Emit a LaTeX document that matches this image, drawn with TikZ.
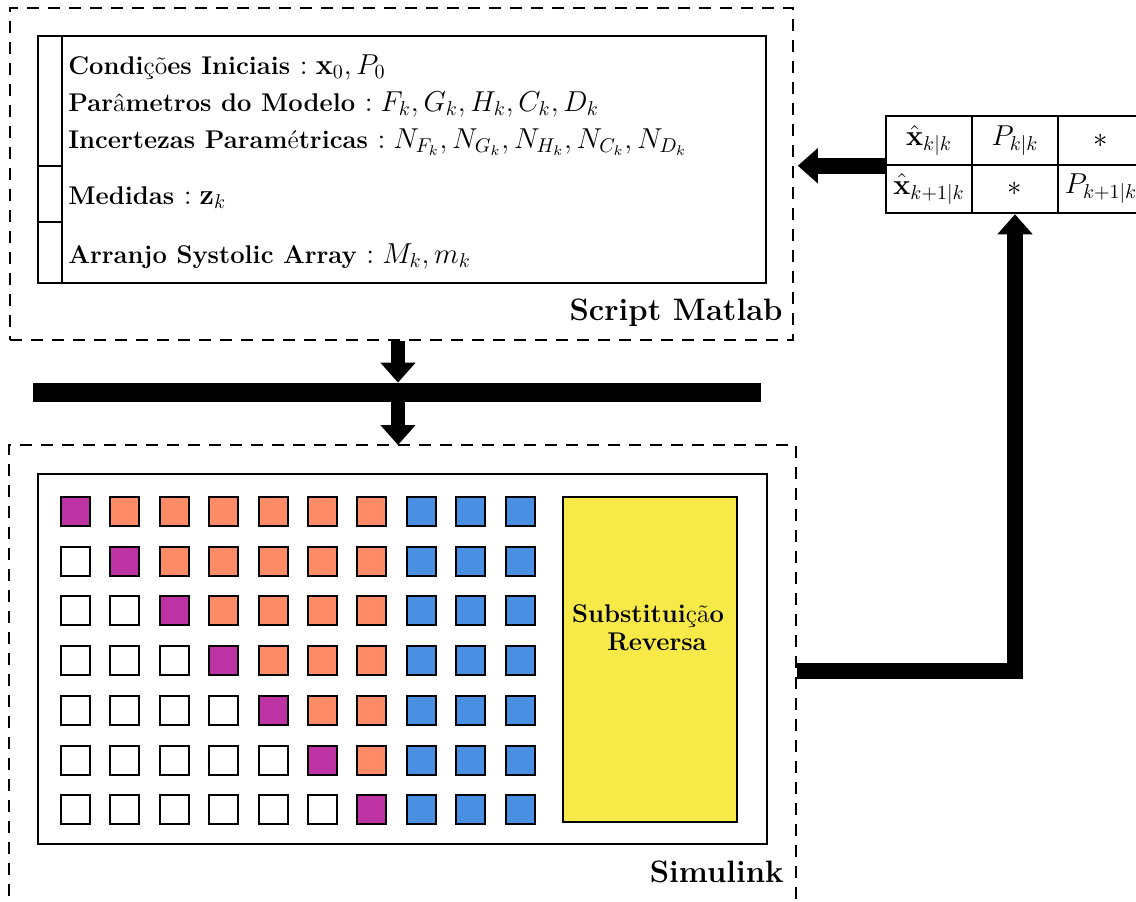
\documentclass[tikz,border=0pt]{standalone}
\usetikzlibrary{arrows.meta,positioning}
\definecolor{cpurple}{HTML}{BD33A4}
\definecolor{corange}{HTML}{FF8C66}
\definecolor{cblue}{HTML}{4A90E2}
\definecolor{cyellow}{HTML}{F7E948}
\newcommand{\mdch}[1]{{\mdseries #1}}
\newcommand{\mth}[1]{{\fontsize{14.2}{16}\selectfont$#1$}}
\tikzset{
  dashbox/.style={draw, dash pattern=on 6pt off 4.5pt, line width=0.75pt, inner sep=0pt},
  solidbox/.style={draw, line width=1pt, inner sep=0pt},
  cell/.style={draw, line width=1pt, inner sep=0pt, minimum width=14.5pt, minimum height=14.5pt},
  tcell/.style={draw, line width=1pt, inner sep=0pt, minimum width=43pt, minimum height=24.25pt, font=\fontsize{14}{16}\selectfont},
  itemtxt/.style={anchor=base west, inner sep=0pt, font=\fontsize{12.8}{14}\selectfont\bfseries},
  labeltxt/.style={anchor=base east, inner sep=0pt, font=\fontsize{15.5}{18}\selectfont\bfseries},
  fat/.style={line width=8pt, line join=miter},
  fatarrow/.style={fat, -{Triangle[width=17pt,length=10pt]}},
}
\begin{document}
\begin{tikzpicture}[x=0.5pt,y=-0.5pt]
\useasboundingbox (0,0) rectangle (1136,901);
% ---------- top: Script Matlab ----------
\node[dashbox, minimum width=391.5pt, minimum height=166pt] (topbox) at (401.5,174) {};
\node[solidbox, minimum width=364pt, minimum height=123.5pt] (topin) at (402,159.5) {};
\draw[line width=1pt] (62,36) -- (62,283);
\draw[line width=1pt] (38,166) -- (62,166);
\draw[line width=1pt] (38,222) -- (62,222);
\node[itemtxt] (t1) at (68,74) {Condi\mdch{çõ}es Iniciais \mth{:\mathbf{x}_0, P_0}};
\node[itemtxt] (t2) at (68,111) {Par\mdch{â}metros do Modelo \mth{:F_k, G_k, H_k, C_k, D_k}};
\node[itemtxt] (t3) at (68,148) {Incertezas Param\mdch{é}tricas \mth{:N_{F_k}, N_{G_k}, N_{H_k}, N_{C_k}, N_{D_k}}};
\node[itemtxt] (t4) at (68,204) {Medidas \mth{:\mathbf{z}_k}};
\node[itemtxt] (t5) at (68,263) {Arranjo Systolic Array \mth{:M_k, m_k}};
\node[labeltxt] (lab1) at (783,320) {Script Matlab};
% ---------- bar ----------
\coordinate (ax) at (398,0);
\coordinate (bottop) at (398,445);
\node[fill=black, inner sep=0pt, minimum width=364pt, minimum height=9.5pt] (bar) at (397,392.5) {};
\draw[fatarrow, line width=7pt] (topbox.south -| ax) -- (bar.north -| ax);
\draw[fatarrow, line width=7pt] (bar.south -| ax) -- (bottop);
% ---------- bottom: Simulink ----------
\node[dashbox, minimum width=393.5pt, minimum height=232.5pt] (botbox) at (402.5,677.5) {};
\node[solidbox, minimum width=364.5pt, minimum height=185pt] (botin) at (402.5,659) {};
\foreach \j in {0,...,6}{
  \foreach \i in {0,...,9}{
    \pgfmathsetmacro{\cx}{75.5+49.4*\i}
    \pgfmathsetmacro{\cy}{511.5+49.7*\j}
    \ifnum\i<\j
      \node[cell, fill=white] (s\j\i) at (\cx,\cy) {};
    \else\ifnum\i=\j
      \node[cell, fill=cpurple] (s\j\i) at (\cx,\cy) {};
    \else\ifnum\i<7
      \node[cell, fill=corange] (s\j\i) at (\cx,\cy) {};
    \else
      \node[cell, fill=cblue] (s\j\i) at (\cx,\cy) {};
    \fi\fi\fi
  }
}
\node[solidbox, fill=cyellow, minimum width=87pt, minimum height=162.5pt] (subst) at (650,659.5) {};
\node[align=center, inner sep=0pt, font=\fontsize{12.8}{14}\selectfont\bfseries] (substtxt) at (648,628) {Substitui\mdch{çã}o\\\hspace*{9pt}Reversa};
\node[labeltxt] (lab2) at (784,882) {Simulink};
% ---------- table ----------
\node[tcell] (c11) at (929,140.5) {$\hat{\mathbf{x}}_{k|k}$};
\node[tcell] (c12) at (1015,140.5) {$P_{k|k}$};
\node[tcell] (c13) at (1101,140.5) {$*$};
\node[tcell] (c21) at (929,189) {$\hat{\mathbf{x}}_{k+1|k}$};
\node[tcell] (c22) at (1015,189) {$*$};
\node[tcell] (c23) at (1101,189) {$P_{k+1|k}$};
% ---------- connectors ----------
\draw[fatarrow, shorten >=2pt] (c11.south west) -- (c11.south west -| topbox.east);
\coordinate (turn) at (1015,671);
\draw[fatarrow] (botbox.east |- turn) -- (turn) -- (c22.south);
\end{tikzpicture}
\end{document}
